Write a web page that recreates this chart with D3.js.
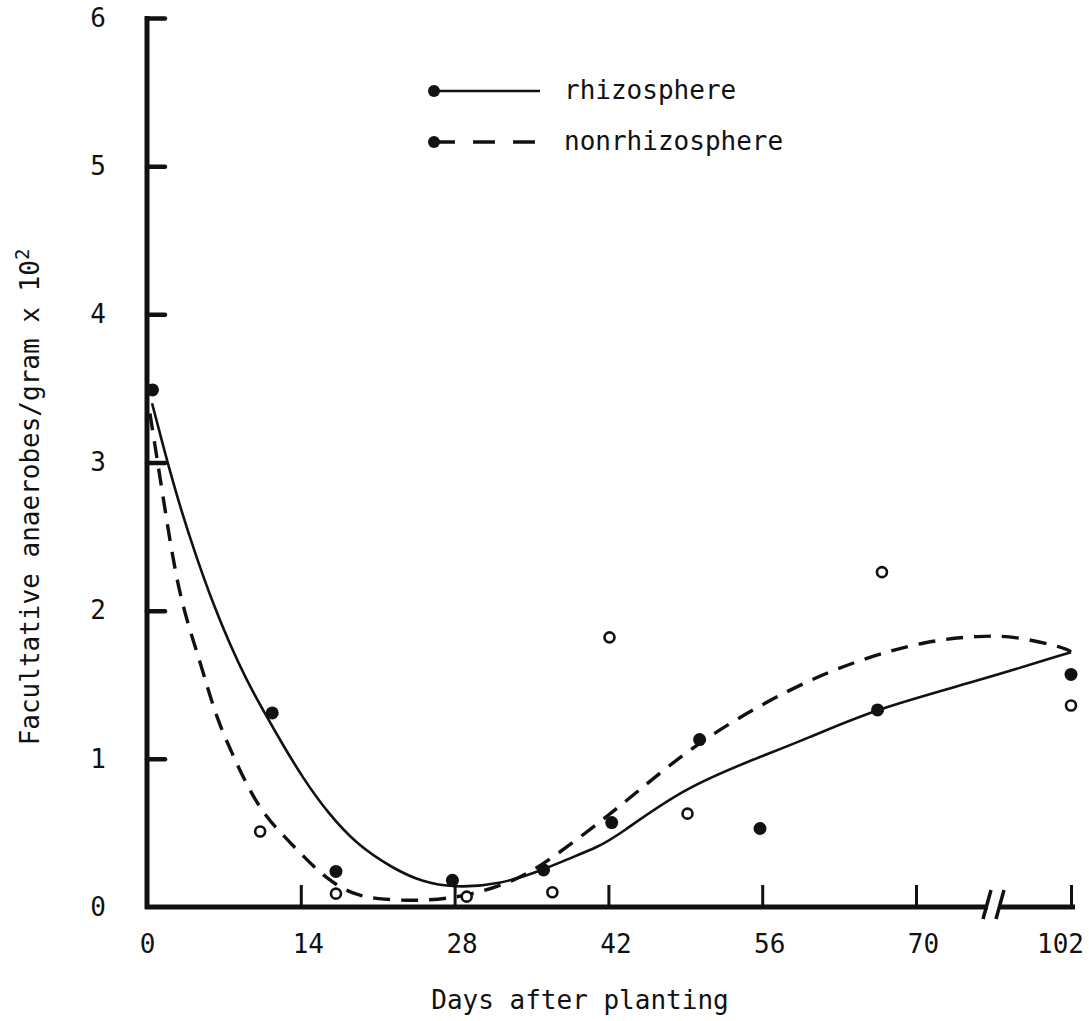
<!DOCTYPE html>
<html>
<head>
<meta charset="utf-8">
<script src="https://cdn.jsdelivr.net/npm/d3@7"></script>
<style>
body { margin: 0; background: #fff; }
text { font-family: "DejaVu Sans Mono", "Liberation Mono", monospace; fill: #111; }
</style>
</head>
<body>
<div class="content"></div>
<script>
var rhizoPoints = [
    [0.5, 3.49], [11.4, 1.31], [17.2, 0.24], [27.8, 0.18], [36.1, 0.25],
    [42.3, 0.57], [50.3, 1.13], [55.8, 0.53], [66.5, 1.33], [102, 1.57]
];
var nonrhizoPoints = [
    [10.3, 0.51], [17.2, 0.09], [29.1, 0.07], [36.9, 0.10], [42.1, 1.82],
    [49.2, 0.63], [66.9, 2.26], [102, 1.36]
];

// hand fitted curves
var rhizoCurve = [
    [0.46, 3.40], [1.5, 3.10], [3.0, 2.70], [4.5, 2.36], [6.0, 2.05], [7.5, 1.78],
    [9.0, 1.54], [10.7, 1.31], [12.4, 1.09], [14.2, 0.87], [16.4, 0.64], [19.1, 0.42],
    [22.4, 0.26], [25.0, 0.17], [27.9, 0.13], [32.1, 0.15], [36.0, 0.25], [38.2, 0.32],
    [41.2, 0.41], [42.8, 0.48], [48.8, 0.80], [55.0, 0.99], [60.2, 1.14], [66.4, 1.34],
    [83.2, 1.53], [102, 1.72]
];
var nonrhizoCurve = [
    [0.27, 3.33], [1.5, 2.75], [2.9, 2.09], [4.8, 1.67], [6.2, 1.30], [7.6, 1.06],
    [9.1, 0.82], [10.6, 0.63], [12.3, 0.49], [14.4, 0.33], [16.2, 0.20], [18.7, 0.08],
    [21.5, 0.05], [25.0, 0.04], [29.1, 0.07], [33.7, 0.18], [36.7, 0.32], [41.2, 0.57],
    [44.5, 0.77], [50.4, 1.13], [58.6, 1.48], [64.8, 1.67], [72.5, 1.80], [83.2, 1.83],
    [90.2, 1.83], [100.8, 1.75], [102, 1.72]
];

var xTicks = [0, 14, 28, 42, 56, 70, 102];
var yTicks = [0, 1, 2, 3, 4, 5, 6];
var seriesNames = ['rhizosphere', 'nonrhizosphere'];

var width = 1089, height = 1021;
var svg = d3.select('.content').append('svg')
    .attr('width', width)
    .attr('height', height);

// axis is broken between 70 and 102
var x = d3.scaleLinear().domain([0, 70, 102]).range([147, 916, 1071]);
var y = d3.scaleLinear().domain([0, 6]).range([907, 18]);

var line = d3.line()
    .x(function(d) { return x(d[0]); })
    .y(function(d) { return y(d[1]); })
    .curve(d3.curveBasis);

// curves
svg.append('path')
    .attr('d', line(rhizoCurve))
    .style('fill', 'none')
    .style('stroke', '#111')
    .style('stroke-width', 2.6);
svg.append('path')
    .attr('d', line(nonrhizoCurve))
    .style('fill', 'none')
    .style('stroke', '#111')
    .style('stroke-width', 3.4)
    .style('stroke-dasharray', '17,11');

// points
svg.selectAll('.rhizo').data(rhizoPoints).enter().append('circle')
    .attr('class', 'rhizo')
    .attr('cx', function(d) { return x(d[0]); })
    .attr('cy', function(d) { return y(d[1]); })
    .attr('r', 6.5)
    .style('fill', '#111');
svg.selectAll('.nonrhizo').data(nonrhizoPoints).enter().append('circle')
    .attr('class', 'nonrhizo')
    .attr('cx', function(d) { return x(d[0]); })
    .attr('cy', function(d) { return y(d[1]); })
    .attr('r', 5)
    .style('fill', '#fff')
    .style('stroke', '#111')
    .style('stroke-width', 2.6);

// axes
var xAxis = svg.append('g')
    .attr('transform', 'translate(0,' + y(0) + ')')
    .call(d3.axisBottom(x).tickValues(xTicks).tickFormat(d3.format('d'))
        .tickSizeInner(-22).tickSizeOuter(0).tickPadding(28));
xAxis.select('.domain').attr('d', 'M' + (x(0) - 2) + ',0H' + (x(102) + 4)).style('stroke-width', 5).style('stroke', '#111');
xAxis.selectAll('.tick line').style('stroke-width', 3).style('stroke', '#111');
xAxis.selectAll('.tick').filter(function(d) { return d === 0; }).select('line').remove();
xAxis.selectAll('text')
    .style('font-size', '26px')
    .attr('dx', function(d) { return d === 0 ? 0 : (d === 102 ? -11 : 7); });

var yAxis = svg.append('g')
    .attr('transform', 'translate(' + x(0) + ',0)')
    .call(d3.axisLeft(y).tickValues(yTicks).tickFormat(d3.format('d'))
        .tickSizeInner(-18).tickSizeOuter(0).tickPadding(41));
yAxis.select('.domain').attr('d', 'M0,' + (y(6) - 2) + 'V' + (y(0) + 2)).style('stroke-width', 5).style('stroke', '#111');
yAxis.selectAll('.tick line').style('stroke-width', 4.5).style('stroke', '#111').attr('stroke-linecap', 'round');
yAxis.selectAll('.tick').filter(function(d) { return d === 0; }).select('line').remove();
yAxis.selectAll('text').style('font-size', '26px');

// axis break marks
svg.append('rect')
    .attr('x', 988).attr('y', y(0) - 5).attr('width', 12).attr('height', 10)
    .style('fill', '#fff');
[986, 999].forEach(function(bx) {
    svg.append('line')
        .attr('x1', bx + 5).attr('y1', y(0) - 17)
        .attr('x2', bx - 3).attr('y2', y(0) + 12)
        .style('stroke', '#111').style('stroke-width', 3.5);
});

// axis titles
svg.append('text')
    .attr('x', 580).attr('y', 1009)
    .attr('text-anchor', 'middle')
    .style('font-size', '26px')
    .text('Days after planting');

var ylab = svg.append('text')
    .attr('transform', 'translate(39,497) rotate(-90)')
    .attr('text-anchor', 'middle')
    .style('font-size', '26px');
ylab.append('tspan').text('Facultative anaerobes/gram x 10');
ylab.append('tspan').attr('dy', -10).style('font-size', '19px').text('2');

// legend
var legend = svg.append('g');
seriesNames.forEach(function(name, i) {
    var ly = 91 + i * 51;
    legend.append('line')
        .attr('x1', 433).attr('x2', 540).attr('y1', ly).attr('y2', ly)
        .style('stroke', '#111')
        .style('stroke-width', i === 0 ? 2.6 : 3.4)
        .style('stroke-dasharray', i === 0 ? null : '22,18');
    legend.append('circle')
        .attr('cx', 434).attr('cy', ly).attr('r', 6)
        .style('fill', '#111');
    legend.append('text')
        .attr('x', 564).attr('y', ly + 8)
        .style('font-size', '26px')
        .text(name);
});
</script>
</body>
</html>
